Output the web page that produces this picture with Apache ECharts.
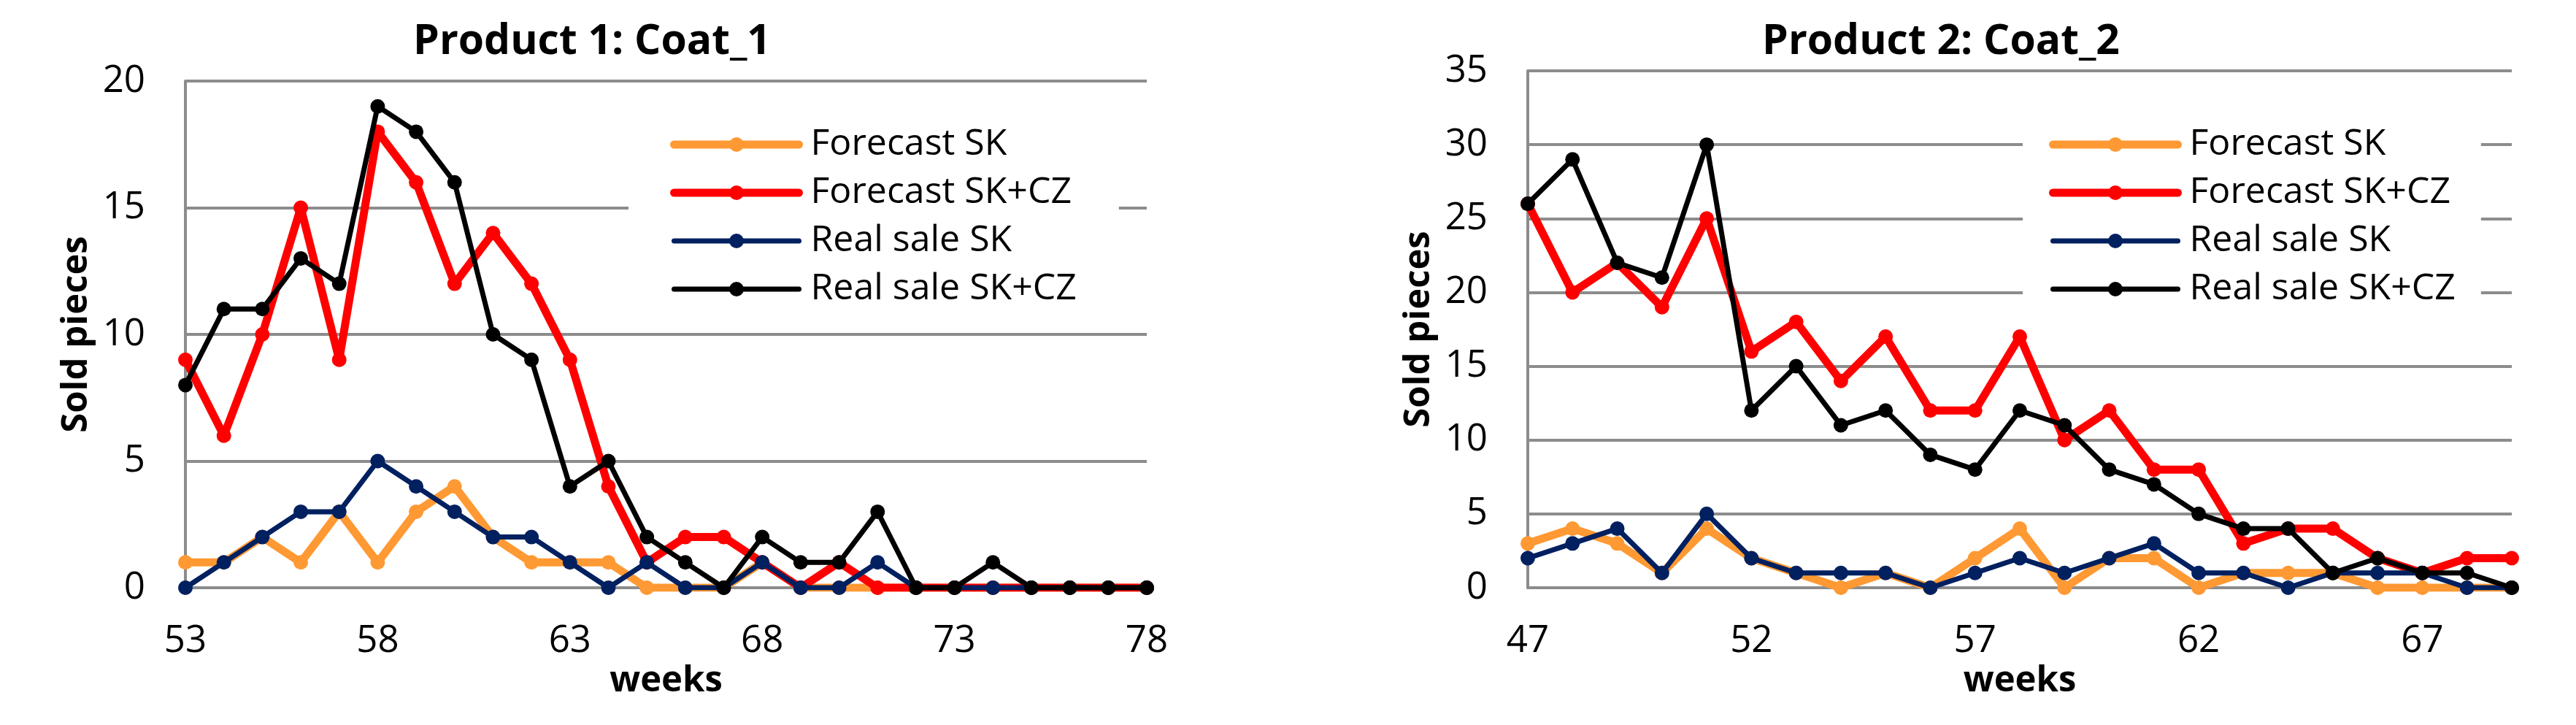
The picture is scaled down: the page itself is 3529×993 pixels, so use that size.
<!DOCTYPE html>
<html>
<head>
<meta charset="utf-8">
<script src="https://cdn.jsdelivr.net/npm/echarts@6/dist/echarts.min.js"></script>
<style>
html,body{margin:0;padding:0;background:#fff;}
#c{width:3529px;height:993px;}
</style>
</head>
<body>
<div id="c"></div>
<script>
// ---- Data ----
const weeks1 = ['53','54','55','56','57','58','59','60','61','62','63','64','65','66','67','68','69','70','71','72','73','74','75','76','77','78'];
const fcSK1     = [1,1,2,1,3,1,3,4,2,1,1,1,0,0,0,1,0,0,0,0,0,0,0,0,0,0];
const fcSKCZ1   = [9,6,10,15,9,18,16,12,14,12,9,4,1,2,2,1,0,1,0,0,0,0,0,0,0,0];
const realSK1   = [0,1,2,3,3,5,4,3,2,2,1,0,1,0,0,1,0,0,1,0,0,0,0,0,0,0];
const realSKCZ1 = [8,11,11,13,12,19,18,16,10,9,4,5,2,1,0,2,1,1,3,0,0,1,0,0,0,0];

const weeks2 = ['47','48','49','50','51','52','53','54','55','56','57','58','59','60','61','62','63','64','65','66','67','68','69'];
const fcSK2     = [3,4,3,1,4,2,1,0,1,0,2,4,0,2,2,0,1,1,1,0,0,0,0];
const fcSKCZ2   = [26,20,22,19,25,16,18,14,17,12,12,17,10,12,8,8,3,4,4,2,1,2,2];
const realSK2   = [2,3,4,1,5,2,1,1,1,0,1,2,1,2,3,1,1,0,1,1,1,0,0];
const realSKCZ2 = [26,29,22,21,30,12,15,11,12,9,8,12,11,8,7,5,4,4,1,2,1,1,0];

const seriesNames = ['Forecast SK','Forecast SK+CZ','Real sale SK','Real sale SK+CZ'];
const titles = ['Product 1: Coat_1','Product 2: Coat_2'];
const yMax = [20, 35];

// ---- Styles ----
const colors = ['#FF9933','#FF0000','#002060','#000000'];
const widths = [11, 11, 7, 7];
const gridColor = '#8c8c8c';
const tickFont = {fontFamily:'Open Sans', fontSize:51, color:'#000'};
const nameFont = {fontFamily:'Open Sans', fontSize:49, fontWeight:'bold', color:'#000'};

const grids = [
  {left:254, top:111, width:1317, height:694},
  {left:2093, top:97, width:1348, height:708}
];

function xAxis(i, data){
  return {
    type:'category', gridIndex:i, data:data, boundaryGap:false,
    axisLine:{show:true, lineStyle:{color:gridColor, width:4}},
    axisTick:{show:false},
    axisLabel:Object.assign({interval:4, margin:48}, tickFont),
    name:'weeks', nameLocation:'middle', nameGap:96, nameTextStyle:nameFont,
    splitLine:{show:false}
  };
}
function yAxis(i){
  return {
    type:'value', gridIndex:i, min:0, max:yMax[i], interval:5,
    axisLine:{show:true, lineStyle:{color:gridColor, width:4}},
    axisTick:{show:false},
    axisLabel:Object.assign({margin:55}, tickFont),
    splitLine:{show:true, lineStyle:{color:gridColor, width:4}},
    name:'Sold pieces', nameLocation:'middle', nameRotate:90, nameGap:124, nameTextStyle:nameFont
  };
}
function mkSeries(i, arrs){
  return arrs.map((d, k) => ({
    name:seriesNames[k], type:'line', xAxisIndex:i, yAxisIndex:i, data:d,
    symbol:'circle', symbolSize:20, showSymbol:true,
    lineStyle:{color:colors[k], width:widths[k]},
    itemStyle:{color:colors[k]},
    z: 2 + k, silent:true
  }));
}
function legend(left, padL, padR){
  return {
    data:seriesNames, orient:'vertical', left:left, top:150,
    padding:[20, padR, 20, padL],
    backgroundColor:'#ffffff',
    itemWidth:171, itemHeight:25, itemGap:10,
    selectedMode:false,
    lineStyle:{width:'inherit', cap:'round'},
    textStyle:{fontFamily:'Open Sans', fontSize:50, color:'#000', lineHeight:56, padding:[0,0,0,11]},
    z:10
  };
}

const chart = echarts.init(document.getElementById('c'), null, {renderer:'canvas'});
chart.setOption({
  animation:false,
  backgroundColor:'#ffffff',
  title:[
    {text:titles[0], left:806, top:24, textAlign:'center',
     textStyle:{fontFamily:'Open Sans', fontSize:57, fontWeight:'bold', color:'#000'}},
    {text:titles[1], left:2654, top:24, textAlign:'center',
     textStyle:{fontFamily:'Open Sans', fontSize:57, fontWeight:'bold', color:'#000'}}
  ],
  legend:[legend(861, 57, 58), legend(2771, 36, 35)],
  grid:grids,
  xAxis:[xAxis(0, weeks1), xAxis(1, weeks2)],
  yAxis:[yAxis(0), yAxis(1)],
  series:[].concat(
    mkSeries(0, [fcSK1, fcSKCZ1, realSK1, realSKCZ1]),
    mkSeries(1, [fcSK2, fcSKCZ2, realSK2, realSKCZ2])
  )
});
</script>
</body>
</html>
